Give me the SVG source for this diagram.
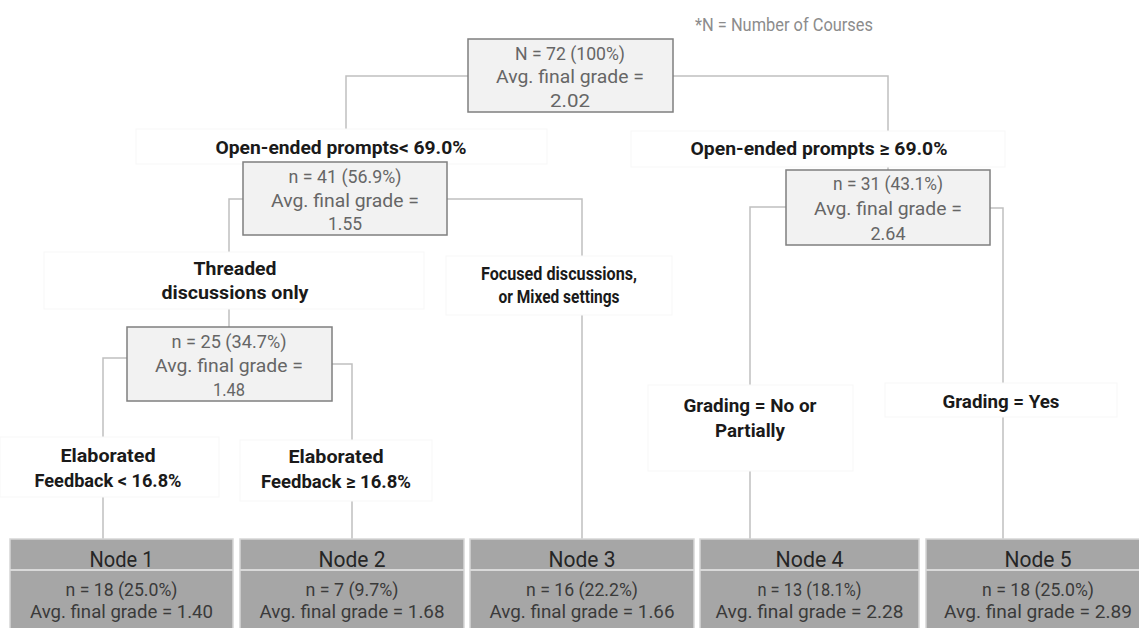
<svg xmlns="http://www.w3.org/2000/svg" width="1139" height="628" viewBox="0 0 1139 628">
<style>
text{font-family:Roboto,"Liberation Sans",sans-serif;text-anchor:middle}
.box{fill:#f2f2f2;stroke:#7f7f7f;stroke-width:1.5}
.bt{font-size:19px;fill:#666666}
.lbg{fill:#fff;stroke:#f7f7f7;stroke-width:1}
.lb{font-size:19px;font-weight:bold;fill:#1a1a1a}
.leaf{fill:#a6a6a6;stroke:#d6d6d6;stroke-width:1.5}
.div{stroke:#d9d9d9;stroke-width:2}
.lh{font-size:22px;fill:#262626}
.lt{font-size:19px;fill:#3a3a3a}
.con{fill:none;stroke:#c0c0c0;stroke-width:1.5}
.note{font-size:18px;fill:#8c8c8c}
</style>
<text class="note" x="784" y="31" textLength="178" lengthAdjust="spacingAndGlyphs">*N = Number of Courses</text>
<g id="connectors">
<path class="con" d="M468,76 H346 V129"/>
<path class="con" d="M673,76 H888 V131 M888,167 V170"/>
<path class="con" d="M243,199 H229 V252 M229,309 V327"/>
<path class="con" d="M447,199 H582 V256 M582,315 V539"/>
<path class="con" d="M127,358 H103 V437 M103,497 V539"/>
<path class="con" d="M332,364 H352 V440 M352,501 V539"/>
<path class="con" d="M786,207 H750 V385 M750,471 V539"/>
<path class="con" d="M990,208 H1003 V383 M1003,417 V539"/>
</g>
<g id="label-left-top">
<rect class="lbg" x="136" y="129" width="411" height="35"/>
<text class="lb" x="341" y="154" textLength="251" lengthAdjust="spacingAndGlyphs">Open-ended prompts&lt; 69.0%</text>
</g>
<g id="label-right-top">
<rect class="lbg" x="631" y="131" width="374" height="36"/>
<text class="lb" x="819" y="155" textLength="257" lengthAdjust="spacingAndGlyphs">Open-ended prompts ≥ 69.0%</text>
</g>
<g id="label-threaded">
<rect class="lbg" x="44" y="252" width="380" height="57"/>
<text class="lb" x="235" y="275" textLength="83" lengthAdjust="spacingAndGlyphs">Threaded</text>
<text class="lb" x="235" y="299" textLength="147" lengthAdjust="spacingAndGlyphs">discussions only</text>
</g>
<g id="label-focused">
<rect class="lbg" x="446" y="256" width="226" height="59"/>
<text class="lb" x="559" y="280" textLength="156" lengthAdjust="spacingAndGlyphs">Focused discussions,</text>
<text class="lb" x="559" y="303" textLength="121" lengthAdjust="spacingAndGlyphs">or Mixed settings</text>
</g>
<g id="label-elab-left">
<rect class="lbg" x="0" y="437" width="219" height="60"/>
<text class="lb" x="108" y="462" textLength="95" lengthAdjust="spacingAndGlyphs">Elaborated</text>
<text class="lb" x="108" y="487" textLength="147" lengthAdjust="spacingAndGlyphs">Feedback &lt; 16.8%</text>
</g>
<g id="label-elab-right">
<rect class="lbg" x="240" y="440" width="192" height="61"/>
<text class="lb" x="336" y="463" textLength="95" lengthAdjust="spacingAndGlyphs">Elaborated</text>
<text class="lb" x="336" y="488" textLength="150" lengthAdjust="spacingAndGlyphs">Feedback ≥ 16.8%</text>
</g>
<g id="label-grading-no">
<rect class="lbg" x="648" y="385" width="205" height="86"/>
<text class="lb" x="750" y="412" textLength="133" lengthAdjust="spacingAndGlyphs">Grading = No or</text>
<text class="lb" x="750" y="437" textLength="70" lengthAdjust="spacingAndGlyphs">Partially</text>
</g>
<g id="label-grading-yes">
<rect class="lbg" x="885" y="383" width="232" height="34"/>
<text class="lb" x="1001" y="408" textLength="117" lengthAdjust="spacingAndGlyphs">Grading = Yes</text>
</g>
<g id="root">
<rect class="box" x="468" y="39" width="205" height="73"/>
<text class="bt" x="570" y="60" textLength="110" lengthAdjust="spacingAndGlyphs">N = 72 (100%)</text>
<text class="bt" x="570" y="83" textLength="148" lengthAdjust="spacingAndGlyphs">Avg. final grade =</text>
<text class="bt" x="570" y="107" textLength="40" lengthAdjust="spacingAndGlyphs">2.02</text>
</g>
<g id="split-41">
<rect class="box" x="243" y="162" width="204" height="73"/>
<text class="bt" x="345" y="183" textLength="113" lengthAdjust="spacingAndGlyphs">n = 41 (56.9%)</text>
<text class="bt" x="345" y="207" textLength="148" lengthAdjust="spacingAndGlyphs">Avg. final grade =</text>
<text class="bt" x="345" y="230" textLength="34" lengthAdjust="spacingAndGlyphs">1.55</text>
</g>
<g id="split-31">
<rect class="box" x="786" y="170" width="204" height="75"/>
<text class="bt" x="888" y="190" textLength="110" lengthAdjust="spacingAndGlyphs">n =  31 (43.1%)</text>
<text class="bt" x="888" y="215" textLength="148" lengthAdjust="spacingAndGlyphs">Avg. final grade =</text>
<text class="bt" x="888" y="240" textLength="35" lengthAdjust="spacingAndGlyphs">2.64</text>
</g>
<g id="split-25">
<rect class="box" x="127" y="327" width="205" height="74"/>
<text class="bt" x="229" y="348" textLength="115" lengthAdjust="spacingAndGlyphs">n = 25 (34.7%)</text>
<text class="bt" x="229" y="372" textLength="148" lengthAdjust="spacingAndGlyphs">Avg. final grade =</text>
<text class="bt" x="229" y="396" textLength="32" lengthAdjust="spacingAndGlyphs">1.48</text>
</g>
<g id="node1">
<rect class="leaf" x="10" y="539" width="223" height="100"/>
<line class="div" x1="10" y1="570" x2="233" y2="570"/>
<text class="lh" x="121.5" y="567" textLength="64" lengthAdjust="spacingAndGlyphs">Node 1</text>
<text class="lt" x="121.5" y="596" textLength="112" lengthAdjust="spacingAndGlyphs">n = 18 (25.0%)</text>
<text class="lt" x="121.5" y="618" textLength="183" lengthAdjust="spacingAndGlyphs">Avg. final grade = 1.40</text>
</g>
<g id="node2">
<rect class="leaf" x="240" y="539" width="224" height="100"/>
<line class="div" x1="240" y1="570" x2="464" y2="570"/>
<text class="lh" x="352" y="567" textLength="67" lengthAdjust="spacingAndGlyphs">Node 2</text>
<text class="lt" x="352" y="596" textLength="93" lengthAdjust="spacingAndGlyphs">n = 7 (9.7%)</text>
<text class="lt" x="352" y="618" textLength="185" lengthAdjust="spacingAndGlyphs">Avg. final grade = 1.68</text>
</g>
<g id="node3">
<rect class="leaf" x="470" y="539" width="224" height="100"/>
<line class="div" x1="470" y1="570" x2="694" y2="570"/>
<text class="lh" x="582" y="567" textLength="67" lengthAdjust="spacingAndGlyphs">Node 3</text>
<text class="lt" x="582" y="596" textLength="112" lengthAdjust="spacingAndGlyphs">n = 16 (22.2%)</text>
<text class="lt" x="582" y="618" textLength="185" lengthAdjust="spacingAndGlyphs">Avg. final grade = 1.66</text>
</g>
<g id="node4">
<rect class="leaf" x="700" y="539" width="219" height="100"/>
<line class="div" x1="700" y1="570" x2="919" y2="570"/>
<text class="lh" x="809.5" y="567" textLength="68" lengthAdjust="spacingAndGlyphs">Node 4</text>
<text class="lt" x="809.5" y="596" textLength="104" lengthAdjust="spacingAndGlyphs">n = 13 (18.1%)</text>
<text class="lt" x="809.5" y="618" textLength="188" lengthAdjust="spacingAndGlyphs">Avg. final grade = 2.28</text>
</g>
<g id="node5">
<rect class="leaf" x="926" y="539" width="224" height="100"/>
<line class="div" x1="926" y1="570" x2="1150" y2="570"/>
<text class="lh" x="1038" y="567" textLength="67" lengthAdjust="spacingAndGlyphs">Node 5</text>
<text class="lt" x="1038" y="596" textLength="112" lengthAdjust="spacingAndGlyphs">n = 18 (25.0%)</text>
<text class="lt" x="1038" y="618" textLength="188" lengthAdjust="spacingAndGlyphs">Avg. final grade = 2.89</text>
</g>
</svg>
